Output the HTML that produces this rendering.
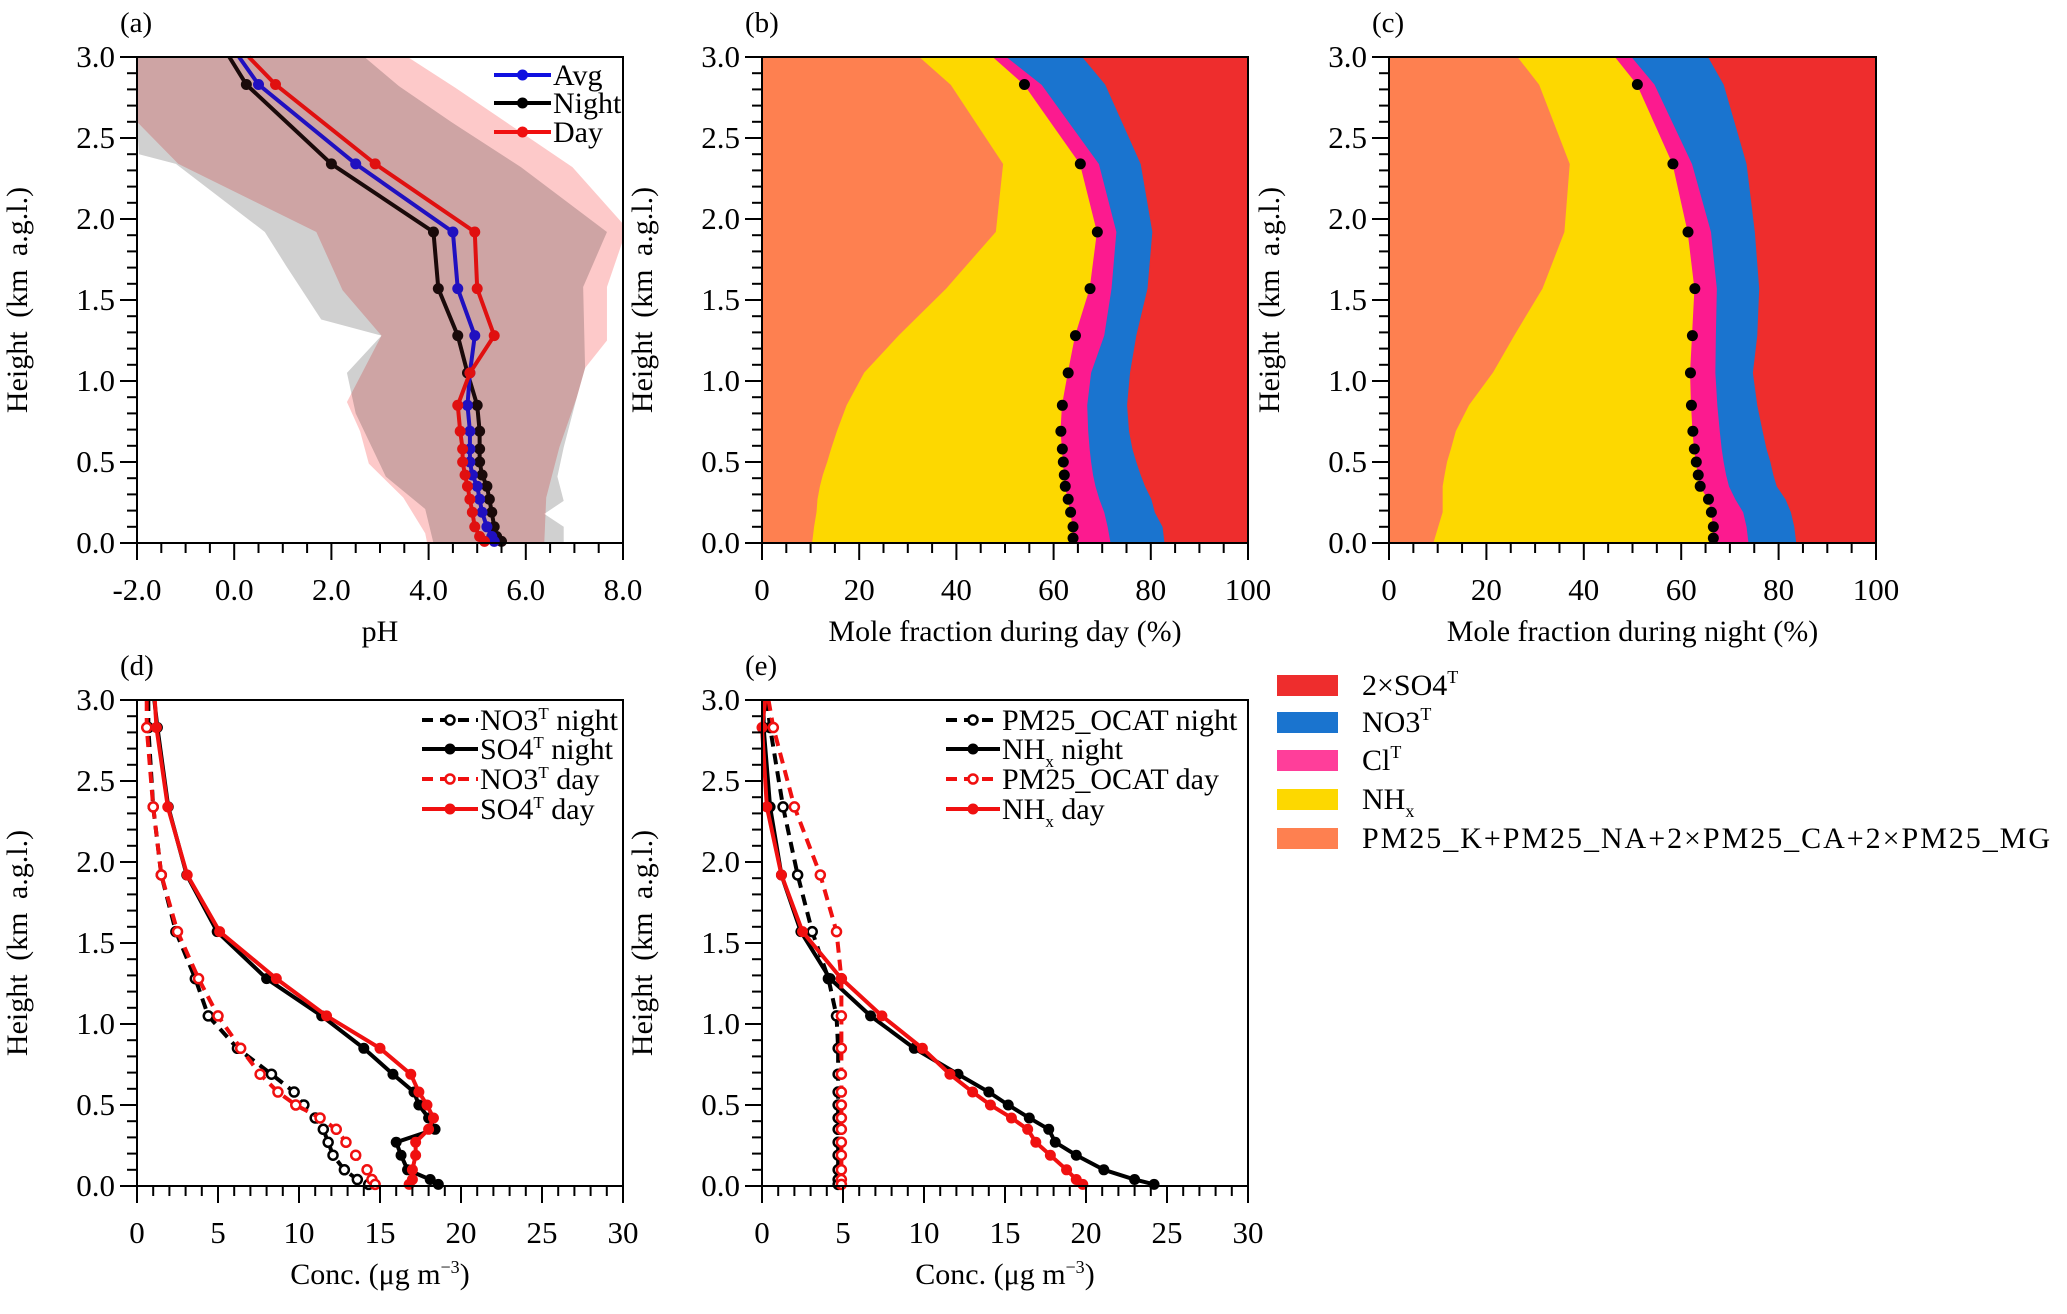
<!DOCTYPE html>
<html><head><meta charset="utf-8"><style>
html,body{margin:0;padding:0;background:#fff}
svg, svg text{font-family:"Liberation Serif","Times New Roman",serif}
</style></head><body>
<svg id="fig" width="2067" height="1309" viewBox="0 0 2067 1309" xmlns="http://www.w3.org/2000/svg" font-family="Liberation Serif, serif">
<style>text{font-family:"Liberation Serif","Times New Roman",serif}</style>
</svg>
<script>
// ---------- data ----------
const heights = [3.0,2.83,2.34,1.92,1.57,1.28,1.05,0.85,0.69,0.58,0.5,0.42,0.35,0.27,0.19,0.1,0.04,0.01];
// panel a: pH
const phNight = [-0.1,0.25,2.0,4.1,4.2,4.6,4.8,5.0,5.05,5.05,5.05,5.1,5.2,5.25,5.3,5.35,5.4,5.5];
const phAvg   = [0.1,0.5,2.5,4.5,4.6,4.95,4.85,4.8,4.85,4.85,4.85,4.9,5.0,5.05,5.1,5.2,5.3,5.35];
const phDay   = [0.3,0.85,2.9,4.95,5.0,5.35,4.85,4.6,4.65,4.7,4.7,4.75,4.8,4.85,4.9,4.95,5.05,5.15];
const grayLeftH  = [3.0,2.58,2.4,2.34,1.92,1.71,1.38,1.28,1.05,0.8,0.41,0.21,0.0];
const grayLeftV  = [-2,-2,-1.96,-1.2,0.63,1.07,1.79,3.03,2.32,2.5,3.12,3.93,4.1];
const grayRightH = [3.0,2.82,2.6,2.32,1.92,1.58,1.08,0.9,0.59,0.41,0.26,0.18,0.1,0.0];
const grayRightV = [2.68,3.39,4.46,5.9,7.67,7.18,7.22,7.05,6.78,6.65,6.78,6.38,6.78,6.78];
const pinkLeftH  = [3.0,2.6,2.34,1.92,1.56,1.28,0.87,0.69,0.49,0.28,0.06,0.0];
const pinkLeftV  = [-2,-2,-1.15,1.69,2.23,3.03,2.32,2.59,2.77,3.48,3.93,3.97];
const pinkRightH = [3.0,2.81,2.32,1.97,1.87,1.58,1.25,1.08,0.9,0.59,0.28,0.0];
const pinkRightV = [3.57,4.55,6.96,8.0,8.0,7.67,7.67,7.22,7.05,6.69,6.42,6.38];
// panel b/c: cumulative mole fractions (%)
const stackH = [3.0,2.83,2.34,1.92,1.57,1.28,1.05,0.85,0.69,0.58,0.5,0.42,0.35,0.27,0.19,0.1,0.0];
const dayOther = [32.5,38.9,49.7,48.2,38,28.2,21.1,17.5,15.5,14.3,13.5,12.6,12.0,11.5,11.3,10.8,10.4];
const dayNHx   = [47.6,54,65.5,69,67.5,64.5,63,61.8,61.5,61.8,62,62.2,62.4,63,63.5,64,64];
const dayCl    = [50.4,57.6,69.4,73,72,70.5,67.8,67,67.2,67.5,67.8,68.2,68.7,69.5,70.5,71.2,71.8];
const dayNO3   = [66,70.7,78,80.4,79.4,77.1,75.8,75.2,75.6,76.3,77.1,78,78.9,80.2,80.9,82.5,82.9];
const nightOther = [26.5,30.9,37.2,36.1,31.6,25.8,21.4,16.5,13.8,12.8,12,11.5,11.1,11.1,11.1,10.2,9.2];
const nightNHx   = [46.5,51,58.3,61.4,62.8,62.3,61.9,62.1,62.4,62.7,63.1,63.5,63.9,65.6,66.2,66.6,66.6];
const nightCl    = [49.9,54.6,62.3,66.2,67.4,67.2,67.1,67.5,68,68.4,68.8,69.3,69.9,71.2,72.8,73.5,73.9];
const nightNO3   = [65.6,68.8,73.5,75.2,76.1,75.7,74.8,75.7,76.8,77.6,78.4,79,79.7,81.5,82.6,83.3,83.7];
// panel d
const so4Night = [1.07,1.26,1.93,3.07,4.95,8.0,11.4,14.0,15.8,17.1,17.4,18.0,18.4,16.0,16.3,16.7,18.1,18.6];
const so4Day   = [1.1,1.2,1.9,3.1,5.1,8.6,11.7,15.0,16.9,17.4,17.9,18.3,18.0,17.2,17.2,17.0,17.0,16.8];
const no3Night = [0.7,0.7,1.0,1.5,2.4,3.6,4.4,6.2,8.3,9.7,10.3,11.0,11.5,11.8,12.1,12.8,13.6,14.3];
const no3Day   = [0.6,0.6,1.0,1.5,2.5,3.8,5.0,6.4,7.6,8.7,9.8,11.3,12.3,12.9,13.5,14.2,14.5,14.7];
// panel e
const nhxNight  = [0.1,0.1,0.5,1.2,2.4,4.2,6.7,9.4,12.1,14.0,15.2,16.5,17.7,18.1,19.4,21.1,23.0,24.2];
const nhxDay    = [0.2,0.0,0.3,1.2,2.5,4.9,7.4,9.9,11.6,13.0,14.1,15.4,16.4,16.9,17.8,18.8,19.4,19.8];
const ocatNight = [0.3,0.5,1.3,2.2,3.1,4.1,4.6,4.7,4.7,4.7,4.7,4.7,4.7,4.7,4.7,4.7,4.7,4.7];
const ocatDay   = [0.4,0.7,2.0,3.6,4.6,4.9,4.9,4.9,4.9,4.9,4.9,4.9,4.9,4.9,4.9,4.9,4.9,4.9];
const phTicks = ["-2.0","0.0","2.0","4.0","6.0","8.0"];
const pctTicks = ["0","20","40","60","80","100"];
const concTicks = ["0","5","10","15","20","25","30"];
const hTicks = ["0.0","0.5","1.0","1.5","2.0","2.5","3.0"];

// ---------- helpers ----------
const NS="http://www.w3.org/2000/svg";
const svg=document.getElementById('fig');
const FF='Liberation Serif, Times New Roman, serif';
function mk(tag,attrs,parent,text){const e=document.createElementNS(NS,tag);for(const k in attrs)e.setAttribute(k,attrs[k]);if(tag==='text')e.setAttribute('font-family',FF);if(text!==undefined)e.textContent=text;(parent||svg).appendChild(e);return e;}
const C={red:'#ee2d2d',blue:'#1a74cf',pink:'#fc1a8f',yellow:'#fdd800',orange:'#fe8050'};

function panel(id,L,R,T,B,xmin,xmax,xTicks,xMinorStep,xTitle,label){
  const g=mk('g',{});
  
  
  const sx=v=>L+(v-xmin)/(xmax-xmin)*(R-L);
  const sy=h=>B-h/3*(B-T);
  return {g,sx,sy,L,R,T,B,xmin,xmax,xTicks,xMinorStep,xTitle,label,id};
}
function axes(p){
  const {g,sx,sy,L,R,T,B}=p;
  const ax=mk('g',{},g);
  
  
  mk('rect',{x:L,y:T,width:R-L,height:B-T,fill:'none',stroke:'#000','stroke-width':2},ax);
  for(let i=0;i<=30;i++){const y=sy(i/10);const len=i%5==0?17:10;mk('line',{x1:L-len,x2:L,y1:y,y2:y,stroke:'#000','stroke-width':2},ax);}
  hTicks.forEach(t=>{const tl=mk('text',{x:L-22,y:sy(+t)+10,'text-anchor':'end','font-size':31},ax,t);});
  const n=Math.round((p.xmax-p.xmin)/p.xMinorStep);
  const majStep=(+p.xTicks[1])-(+p.xTicks[0]);
  for(let i=0;i<=n;i++){const v=p.xmin+i*p.xMinorStep;const x=sx(v);const maj=Math.abs(((v-p.xmin)/majStep)-Math.round((v-p.xmin)/majStep))<1e-6;mk('line',{x1:x,x2:x,y1:B,y2:B+(maj?17:10),stroke:'#000','stroke-width':2},ax);}
  p.xTicks.forEach(t=>{const tl=mk('text',{x:sx(+t),y:B+57,'text-anchor':'middle','font-size':31},ax,t);});
  const xt=mk('text',{x:(L+R)/2,y:B+98,'text-anchor':'middle','font-size':30},ax);
  
  xt.innerHTML=p.xTitle;
  const yt=mk('text',{x:0,y:0,'text-anchor':'middle','font-size':30,'word-spacing':6,transform:`translate(${L-110},${(T+B)/2}) rotate(-90)`},ax,'Height (km a.g.l.)');
  
  const pl=mk('text',{x:L-17,y:T-25,'font-size':29},ax,p.label);
  
}
function line(p,vals,color,dash,filled,name){
  const pts=vals.map((v,i)=>[p.sx(v),p.sy(heights[i])]);
  const pl=mk('polyline',{points:pts.map(q=>q.join(',')).join(' '),fill:'none',stroke:color,'stroke-width':4,'stroke-dasharray':dash?'11,7':'none'},p.g);
  
  pts.forEach((q,i)=>{if(i==0)return;const c=mk('circle',{cx:q[0],cy:q[1],r:filled?5.5:4.5,fill:filled?color:'#fff',stroke:color,'stroke-width':filled?0:2.5},p.g);});
}
function legendLine(p,x1,x2,y,color,dash,filled,label,name){
  const g=mk('g',{},p.g);
  
  mk('line',{x1,x2,y1:y,y2:y,stroke:color,'stroke-width':4,'stroke-dasharray':dash?'11,7':'none'},g);
  mk('circle',{cx:(x1+x2)/2,cy:y,r:filled?5.5:4.5,fill:filled?color:'#fff',stroke:color,'stroke-width':filled?0:2.5},g);
  const t=mk('text',{x:x2+2,y:y+10,'font-size':30},g);t.innerHTML=label;
}

// ---------- panel a ----------
const pa=panel('a',137,623,57,543,-2,8,phTicks,0.5,'pH','(a)');
function env(p,lh,lv,rh,rv){const pts=[];lh.forEach((h,i)=>pts.push([p.sx(lv[i]),p.sy(h)]));for(let i=rh.length-1;i>=0;i--)pts.push([p.sx(rv[i]),p.sy(rh[i])]);return pts.map(q=>q.join(',')).join(' ');}
const gEnv=mk('polygon',{points:env(pa,grayLeftH,grayLeftV,grayRightH,grayRightV),fill:'#d0d0d0'},pa.g);

const pEnv=mk('polygon',{points:env(pa,pinkLeftH,pinkLeftV,pinkRightH,pinkRightV),fill:'#fdc9c9',style:'mix-blend-mode:multiply'},pa.g);

line(pa,phNight,'#1a0a0a',false,true,'night');
line(pa,phAvg,'#2010c0',false,true,'avg');
line(pa,phDay,'#e01010',false,true,'day');
axes(pa);
legendLine(pa,494,551,75,'#1010e0',false,true,'Avg','avg');
legendLine(pa,494,551,103,'#000',false,true,'Night','night');
legendLine(pa,494,551,132,'#f01010',false,true,'Day','day');

// ---------- panels b, c ----------
function stack(p,other,nhx,cl,no3,dotName){
  const layers=[[null,other,C.orange,'other'],[other,nhx,C.yellow,'nhx'],[nhx,cl,C.pink,'cl'],[cl,no3,C.blue,'no3'],[no3,null,C.red,'so4']];
  layers.forEach(([lo,hi,col,nm])=>{
    const pts=[];
    stackH.forEach((h,i)=>pts.push([p.sx(hi?hi[i]:100),p.sy(h)]));
    for(let i=stackH.length-1;i>=0;i--)pts.push([p.sx(lo?lo[i]:0),p.sy(stackH[i])]);
    const pg=mk('polygon',{points:pts.map(q=>q.join(',')).join(' '),fill:col,stroke:col,'stroke-width':0.8},p.g);
    
  });
  stackH.forEach((h,i)=>{if(i==0)return;const c=mk('circle',{cx:p.sx(nhx[i]),cy:p.sy(h===0?0.03:h),r:5.5,fill:'#000'},p.g);});
  axes(p);
}
const pb=panel('b',762,1248,57,543,0,100,pctTicks,5,'Mole fraction during day (%)','(b)');
stack(pb,dayOther,dayNHx,dayCl,dayNO3,'nhx-day-point');
const pc=panel('c',1389,1876,57,543,0,100,pctTicks,5,'Mole fraction during night (%)','(c)');
stack(pc,nightOther,nightNHx,nightCl,nightNO3,'nhx-night-point');

// ---------- panel d ----------
const conc='Conc. (μg m<tspan dy="-11" font-size="18">−3</tspan><tspan dy="11">)</tspan>';
const pd=panel('d',137,623,700,1186,0,30,concTicks,1,conc,'(d)');
line(pd,no3Night,'#000',true,false,'no3-night');
line(pd,so4Night,'#000',false,true,'so4-night');
line(pd,no3Day,'#f01010',true,false,'no3-day');
line(pd,so4Day,'#f01010',false,true,'so4-day');
axes(pd);
const sup=t=>`<tspan dy="-11" font-size="17">${t}</tspan><tspan dy="11"> </tspan>`;
legendLine(pd,422,478,720,'#000',true,false,'NO3'+sup('T')+'night','no3-night');
legendLine(pd,422,478,749,'#000',false,true,'SO4'+sup('T')+'night','so4-night');
legendLine(pd,422,478,779,'#f01010',true,false,'NO3'+sup('T')+'day','no3-day');
legendLine(pd,422,478,809,'#f01010',false,true,'SO4'+sup('T')+'day','so4-day');

// ---------- panel e ----------
const pe=panel('e',762,1248,700,1186,0,30,concTicks,1,conc,'(e)');
line(pe,ocatNight,'#000',true,false,'ocat-night');
line(pe,nhxNight,'#000',false,true,'nhx-night');
line(pe,ocatDay,'#f01010',true,false,'ocat-day');
line(pe,nhxDay,'#f01010',false,true,'nhx-day');
axes(pe);
const sub=t=>`<tspan dy="8" font-size="17">${t}</tspan><tspan dy="-8"> </tspan>`;
legendLine(pe,946,1000,720,'#000',true,false,'PM25_OCAT night','ocat-night');
legendLine(pe,946,1000,749,'#000',false,true,'NH'+sub('x')+'night','nhx-night');
legendLine(pe,946,1000,779,'#f01010',true,false,'PM25_OCAT day','ocat-day');
legendLine(pe,946,1000,809,'#f01010',false,true,'NH'+sub('x')+'day','nhx-day');

// ---------- stack legend ----------
const lg=mk('g',{});


const legItems=[[C.red,'2×SO4'+'<tspan dy="-12" font-size="18">T</tspan>'],[C.blue,'NO3<tspan dy="-12" font-size="18">T</tspan>'],['#ff3e9a','Cl<tspan dy="-12" font-size="18">T</tspan>'],[C.yellow,'NH<tspan dy="8" font-size="18">x</tspan>'],[C.orange,'PM25_K+PM25_NA+2×PM25_CA+2×PM25_MG']];
const legY=[685,722,760,799,838];
legItems.forEach((it,i)=>{
  const e=mk('g',{},lg);
  
  
  mk('rect',{x:1277,y:legY[i]-10,width:61,height:21,fill:it[0]},e);
  const t=mk('text',{x:1362,y:legY[i]+10,'font-size':30},e);
  if(i==4)t.setAttribute('textLength','688');
  t.innerHTML=it[1];
});
</script>
</body></html>
